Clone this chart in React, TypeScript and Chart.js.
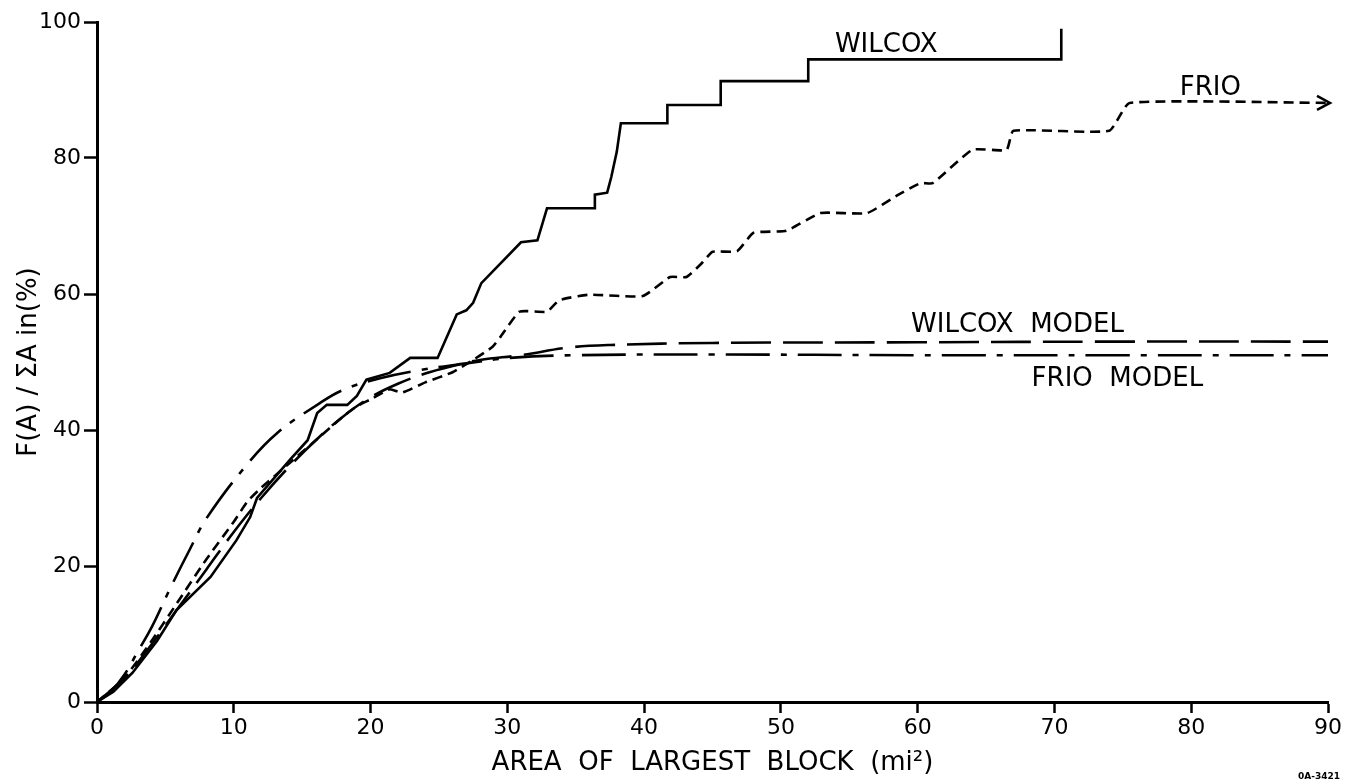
import { useEffect, useRef } from "react";
import { Chart, registerables } from "chart.js";

Chart.register(...registerables);

// ---- Data ----
const wilcoxX = [0, 1.2, 2.6, 4.4, 5.8, 8.3, 10.2, 11.2, 11.7, 14.1, 15.4, 16.1, 16.8, 18.3, 19.0, 19.7, 21.4, 22.9, 24.9, 26.3, 27.0, 27.5, 28.1, 31.0, 32.2, 32.9, 36.4, 36.4, 37.3, 37.6, 38.0, 38.3, 41.7, 41.7, 45.6, 45.6, 52.0, 52.0, 70.5, 70.5];
const wilcoxY = [0, 1.5, 4.3, 9.0, 13.5, 18.4, 23.8, 27.2, 30.0, 35.6, 38.5, 42.5, 43.7, 43.7, 45.0, 47.4, 48.4, 50.6, 50.6, 57.0, 57.6, 58.7, 61.6, 67.6, 67.9, 72.6, 72.6, 74.6, 74.9, 77.2, 80.9, 85.1, 85.1, 87.8, 87.8, 91.3, 91.3, 94.5, 94.5, 99.0];

const frioX = [0, 2, 4, 6, 8, 10, 11, 12, 14, 16, 18, 19, 20, 21.4, 22.3, 24, 26, 27.5, 28.9, 29.5, 30.9, 32.9, 33.8, 36.0, 39.9, 41.9, 43.1, 44.3, 45.0, 46.8, 48.0, 50.4, 52.9, 56.3, 58.5, 60.2, 61.1, 64.0, 66.5, 67.0, 74.0, 75.5, 90];
const frioY = [0, 3.5, 9.0, 15.0, 21.0, 26.5, 29.5, 31.5, 35.0, 38.5, 42.0, 43.5, 44.5, 46.0, 45.5, 47.0, 48.5, 50.3, 52.2, 53.7, 57.4, 57.4, 59.1, 59.9, 59.7, 62.5, 62.5, 64.7, 66.2, 66.3, 69.0, 69.3, 71.9, 71.9, 74.5, 76.3, 76.3, 81.2, 81.2, 84.0, 84.0, 88.1, 88.1];

const wilcoxModelX = [0, 2, 4, 6, 8, 10, 12, 14, 16, 18, 20, 22, 24, 26, 28, 31, 34.4, 37.5, 45, 60, 75, 90];
const wilcoxModelY = [0, 3.5, 8.5, 14.0, 19.5, 25.0, 30.0, 34.5, 38.5, 42.0, 44.8, 46.8, 48.3, 49.4, 50.3, 51.0, 52.1, 52.5, 52.8, 52.9, 53.0, 53.0];

const frioModelX = [0, 1, 2, 3, 4, 5.3, 6.8, 8, 11, 13.2, 16.1, 18, 20.7, 23.6, 27, 30.2, 35, 45, 60, 75, 90];
const frioModelY = [0, 1.5, 4.0, 7.5, 11.0, 16.5, 22.5, 27.0, 35.0, 39.6, 43.7, 45.9, 47.6, 48.8, 49.8, 50.6, 51.0, 51.1, 51.0, 51.0, 51.0];

const xMin = 0;
const xMax = 90;
const xStep = 10;
const yMin = 0;
const yMax = 100;
const yStep = 20;

const xTitle = "AREA  OF  LARGEST  BLOCK  (mi²)";
const yTitle = "F(A) / ΣA in(%)";

const seriesNames = ["WILCOX", "FRIO", "WILCOX  MODEL", "FRIO  MODEL"];

// annotation label anchors (in data units)
const labelX = [57.7, 81.4, 67.3, 74.6];
const labelY = [96.6, 90.3, 55.4, 47.4];

const FONT = "'DejaVu Sans', 'Liberation Sans', sans-serif";

function pts(xs: number[], ys: number[]) {
  return xs.map((x, i) => ({ x, y: ys[i] }));
}

const annotationPlugin = {
  id: "annotations",
  afterDatasetsDraw(chart: any) {
    const { ctx, scales } = chart;
    const xs = scales.x;
    const ys = scales.y;
    ctx.save();
    ctx.fillStyle = "#000";
    ctx.font = `26px ${FONT}`;
    ctx.textAlign = "center";
    ctx.textBaseline = "middle";
    seriesNames.forEach((name, i) => {
      ctx.fillText(name, xs.getPixelForValue(labelX[i]), ys.getPixelForValue(labelY[i]));
    });
    // arrow head at end of FRIO
    const ax = xs.getPixelForValue(frioX[frioX.length - 1]) + 2;
    const ay = ys.getPixelForValue(frioY[frioY.length - 1]);
    ctx.strokeStyle = "#000";
    ctx.lineWidth = 2.5;
    ctx.setLineDash([]);
    ctx.beginPath();
    ctx.moveTo(ax - 13, ay - 7);
    ctx.lineTo(ax, ay);
    ctx.lineTo(ax - 13, ay + 7);
    ctx.stroke();
    // figure id
    ctx.font = `bold 9px ${FONT}`;
    ctx.textAlign = "right";
    ctx.fillText("0A-3421", 1340, 777);
    ctx.restore();
  },
};

export default function App() {
  const canvasRef = useRef<HTMLCanvasElement | null>(null);

  useEffect(() => {
    document.body.style.margin = "0";
    const canvas = canvasRef.current;
    if (!canvas) return;
    const common = {
      borderColor: "#000",
      borderWidth: 2.6,
      pointRadius: 0,
      fill: false,
      clip: false as any,
    };
    const chart = new Chart(canvas, {
      type: "line",
      data: {
        datasets: [
          { ...common, label: "WILCOX", data: pts(wilcoxX, wilcoxY), tension: 0 },
          { ...common, label: "FRIO", data: pts(frioX, frioY), tension: 0.15, borderDash: [10, 6] },
          { ...common, label: "WILCOX MODEL", data: pts(wilcoxModelX, wilcoxModelY), tension: 0.4, borderDash: [40, 12] },
          { ...common, label: "FRIO MODEL", data: pts(frioModelX, frioModelY), tension: 0.4, borderDash: [44, 11, 6, 11] },
        ],
      },
      options: {
        responsive: false,
        animation: false,
        layout: { padding: { left: 0, top: 22, right: 18, bottom: 0 } },
        plugins: {
          legend: { display: false },
          tooltip: { enabled: false },
        },
        scales: {
          x: {
            type: "linear",
            min: xMin,
            max: xMax,
            afterFit: (s: any) => { s.height = 81; },
            border: { display: true, color: "#000", width: 3 },
            grid: { display: true, drawOnChartArea: false, drawTicks: true, tickLength: 11, tickWidth: 2.5, tickColor: "#000" },
            ticks: { stepSize: xStep, color: "#000", font: { family: FONT, size: 22 }, padding: 2, maxRotation: 0, autoSkip: false },
            title: { display: true, text: xTitle, color: "#000", font: { family: FONT, size: 26 }, padding: { top: 0, bottom: 4 } },
          },
          y: {
            type: "linear",
            min: yMin,
            max: yMax,
            afterFit: (s: any) => { s.width = 97; },
            border: { display: true, color: "#000", width: 3 },
            grid: { display: true, drawOnChartArea: false, drawTicks: true, tickLength: 13, tickWidth: 2.5, tickColor: "#000" },
            ticks: { stepSize: yStep, color: "#000", font: { family: FONT, size: 22 }, padding: 3 },
            title: { display: true, text: yTitle, color: "#000", font: { family: FONT, size: 26 }, padding: { top: 14, bottom: 0 } },
          },
        },
      },
      plugins: [annotationPlugin],
    });
    return () => chart.destroy();
  }, []);

  return (
    <div style={{ position: "fixed", left: 0, top: 0, width: 1346, height: 783, background: "#fff" }}>
      <canvas ref={canvasRef} width={1346} height={783} style={{ display: "block" }} />
    </div>
  );
}
